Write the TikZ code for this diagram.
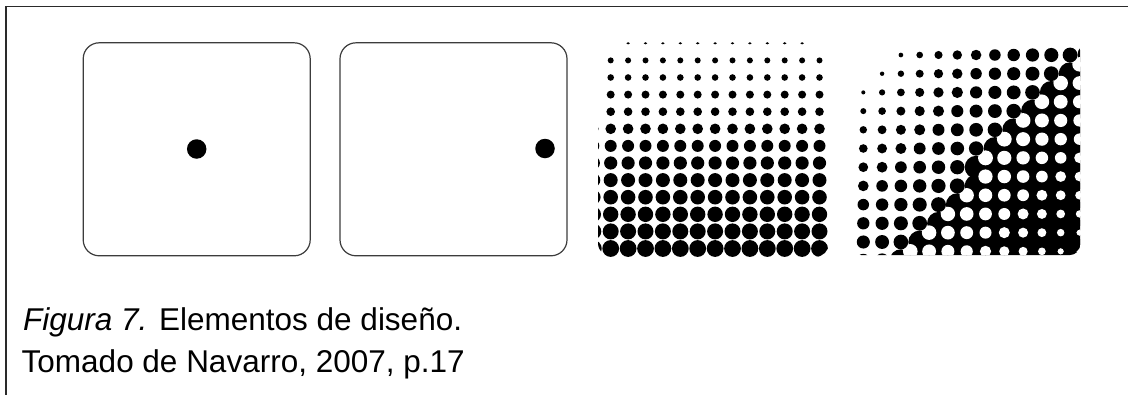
\documentclass[tikz,border=0pt]{standalone}
\usepackage{fontspec}
\setmainfont{Liberation Sans}
\usepackage{xcolor}
\definecolor{ink}{HTML}{000000}
\definecolor{line}{HTML}{3C3C3C}
\definecolor{frame}{HTML}{2A2A2A}

\begin{document}
\begin{tikzpicture}[
    x=1pt, y=-1pt,
    font=\fontsize{31.5}{38}\selectfont,
    panelbox/.style={
        draw=line,
        fill=white,
        line width=1.2pt,
        rounded corners=16pt,
        minimum width=227pt,
        minimum height=213pt,
        inner sep=0pt
    },
    dotmark/.style={
        circle,
        fill=ink,
        minimum size=19.5pt,
        inner sep=0pt
    },
    frameline/.style={draw=frame, line width=1.3pt},
    caption/.style={anchor=base west, inner sep=0pt, text=ink}
]
\useasboundingbox (0,0) rectangle (1128,394);

% Outer frame (only top and left edges fall inside the picture).
\draw[frameline] (6,400) -- (6,6.7) -- (1140,6.7);

% Plain panels with a single dot.
\node[panelbox] (boxCenter) at (196.7,149.3) {};
\node[panelbox] (boxSide) at (453.5,149.3) {};
\node[dotmark] (dotCenter) at (196.7,149) {};
\node[dotmark] (dotSide) at (545,148.5) {};

% Halftone panel: dots grow from top to bottom.
\begin{scope}
    \clip[rounded corners=14pt] (598,36) rectangle (829,257);
    \foreach \r [count=\j from 0] in {1.2,3,3.3,4,4.3,5.3,6,6.6,7,7.3,7.7,8,8.4}{
        \foreach \i in {-1,...,12}{
            \ifnum\j=0
                \ifnum\i>0 \ifnum\i<12
                    \fill[ink] (610.7+17.4*\i,43.3) ellipse [x radius=1.8pt, y radius=1.1pt];
                \fi\fi
            \else
                \fill[ink] (610.7+17.4*\i,43.3+17.1*\j) circle [radius=\r pt];
            \fi
        }
    }
\end{scope}

% Halftone panel: diagonal ramp, dots turn into white holes.
\begin{scope}
    \clip[rounded corners=10pt] (851,40) rectangle (1080,255);
    % dark cells
    \foreach \i in {0,...,12}{
        \foreach \j in {0,...,11}{
            \pgfmathsetmacro\dk{0.049*(\i-1)+0.043*\j}
            \ifdim\dk pt>0.5pt
                \fill[ink] (863.3+18.8*\i,55+18.7*\j) circle [radius=11.4pt];
            \fi
        }
    }
    % white holes between dark cells
    \foreach \i in {-1,...,12}{
        \foreach \j in {-1,...,11}{
            \pgfmathsetmacro\dk{0.049*(\i-0.5)+0.043*(\j+0.5)}
            \ifdim\dk pt>0.5pt \ifdim\dk pt<0.97pt
                \pgfmathsetmacro\rw{18.8*sqrt((1-\dk)/pi)}
                \fill[white] (863.3+18.8*\i+9.4,55+18.7*\j+9.35) circle [radius=\rw pt];
            \fi\fi
        }
    }
    % light dots
    \foreach \i in {0,...,12}{
        \foreach \j in {0,...,11}{
            \pgfmathsetmacro\dk{0.049*(\i-1)+0.043*\j}
            \ifdim\dk pt>0.01pt \ifdim\dk pt<0.5pt
                \pgfmathsetmacro\rb{18.8*sqrt(\dk/pi)}
                \fill[ink] (863.3+18.8*\i,55+18.7*\j) circle [radius=\rb pt];
            \fi\fi
        }
    }
\end{scope}

% Caption.
\node[caption] (figLabel) at (23,330) {\textit{Figura 7.} Elementos de diseño.};
\node[caption] (srcLabel) at (21.5,372) {Tomado de Navarro, 2007, p.17};

\end{tikzpicture}
\end{document}
